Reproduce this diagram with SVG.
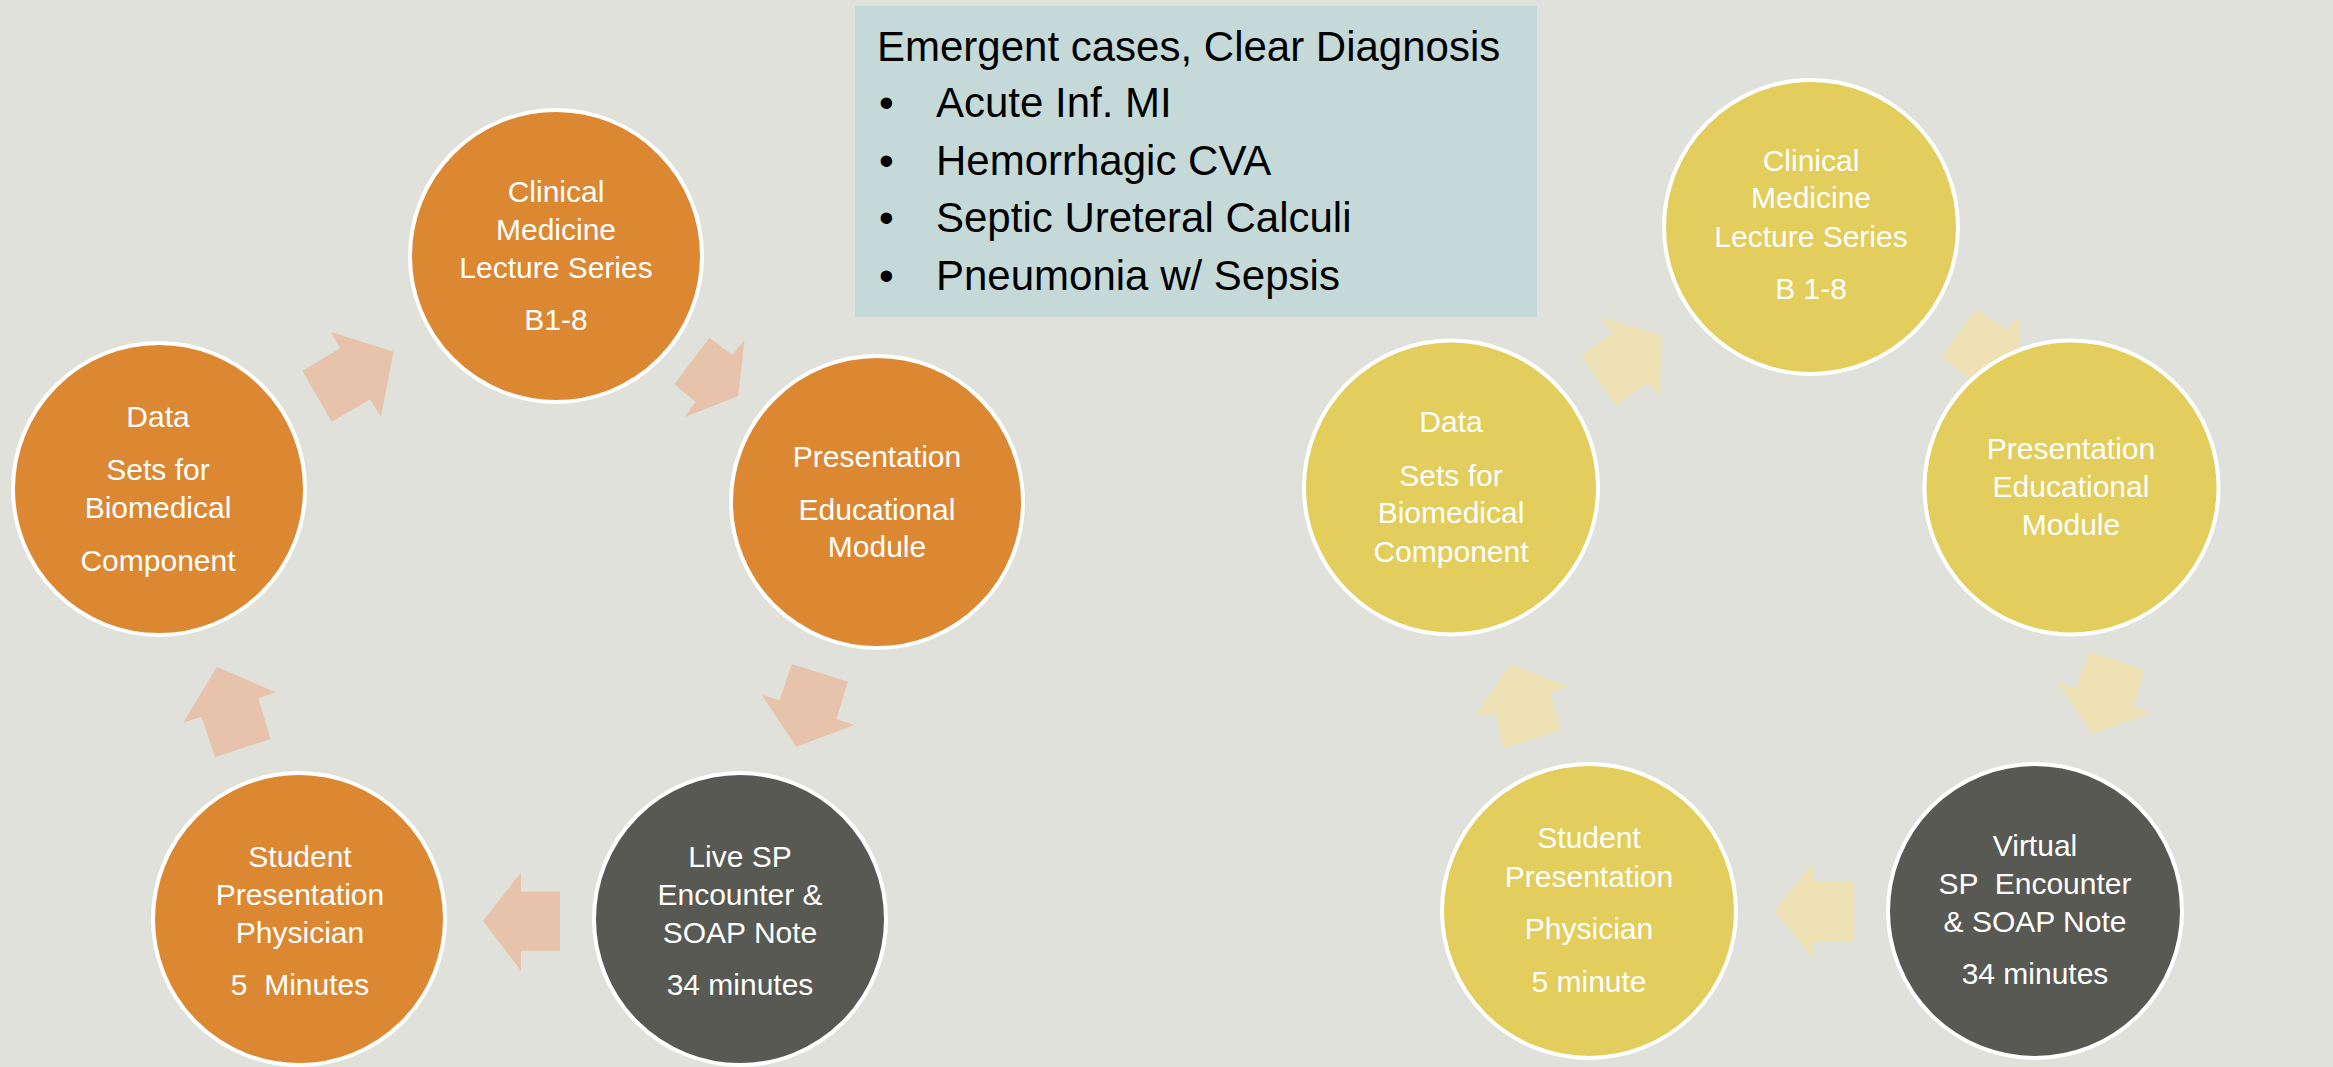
<svg xmlns="http://www.w3.org/2000/svg" width="2333" height="1067" viewBox="0 0 2333 1067">
<style>
.bg{fill:#E0E1DB}
.or{fill:#DC8832;stroke:#FFFFFF;stroke-width:4}
.ye{fill:#E3CD5C;stroke:#FFFFFF;stroke-width:4}
.dk{fill:#585953;stroke:#FFFFFF;stroke-width:4}
.pa{fill:#E8C3AB}
.ya{fill:#EEE2B4}
.nt{font-family:"Liberation Sans",Arial,sans-serif;font-size:30px;fill:#FFFFFF;text-anchor:middle}
.bt{font-family:"Liberation Sans",Arial,sans-serif;font-size:42px;fill:#000000}
</style>
<rect class="bg" x="0" y="0" width="2333" height="1067"/>

<g id="casebox">
<rect x="855" y="6" width="682" height="311" fill="#C5DAD8"/>
<text class="bt" x="877" y="61">Emergent cases, Clear Diagnosis</text>
<text class="bt" x="879" y="117">•</text><text class="bt" x="936" y="117">Acute Inf. MI</text>
<text class="bt" x="879" y="175">•</text><text class="bt" x="936" y="175">Hemorrhagic CVA</text>
<text class="bt" x="879" y="232">•</text><text class="bt" x="936" y="232">Septic Ureteral Calculi</text>
<text class="bt" x="879" y="290">•</text><text class="bt" x="936" y="290">Pneumonia w/ Sepsis</text>
</g>

<g id="connectors">
<polygon class="pa" points="330.5,331.7 393.6,351.7 380.9,416.7 370,399.3 331.8,421.7 302.4,370.7 340,348.3"/>
<polygon class="pa" points="709.5,337.7 732.4,355 744.5,340 738.2,396 684.6,417.3 695.4,401.7 674.4,384.3"/>
<polygon class="pa" points="791.8,664 847.9,681.7 836.4,719 854.3,725 796.2,746.7 761.8,695 779.6,700.3"/>
<polygon class="pa" points="521,872.3 521,891.7 560,891.7 560,950.7 521,950.7 521,970.7 483,921"/>
<polygon class="pa" points="216.9,666.7 275.6,692.3 258.4,698.3 270.5,739 215,757.3 201.6,716.7 183.1,722.7"/>

<polygon class="ya" points="1601,317.7 1661.5,335 1659.5,396.7 1648,382.7 1615.8,405 1580.9,356 1612.4,333.3"/>
<polygon class="ya" points="1976.4,309 2006.7,330 2018.8,316.7 2022.1,378.3 1963,395.7 1971.7,380 1941.5,356.7"/>
<polygon class="ya" points="2089.3,651.7 2144.3,670 2132.9,706.7 2151,712.7 2092.6,734 2057.7,682.7 2075.8,688.3"/>
<polygon class="ya" points="1813.9,861.7 1813.9,881.7 1854.2,881.7 1854.2,941 1813.9,941 1813.9,960 1775,910.7"/>
<polygon class="ya" points="1510.4,664 1568.8,686.7 1550,692.7 1560.7,730 1503.6,748.3 1494.9,711.7 1474.8,716"/>
</g>

<g id="L-clinical">
<circle class="or" cx="556" cy="256" r="146"/>
<text class="nt" x="556" y="202">Clinical</text>
<text class="nt" x="556" y="240">Medicine</text>
<text class="nt" x="556" y="278">Lecture Series</text>
<text class="nt" x="556" y="330">B1-8</text>
</g>
<g id="L-presentation">
<circle class="or" cx="877" cy="502" r="146"/>
<text class="nt" x="877" y="467">Presentation</text>
<text class="nt" x="877" y="520">Educational</text>
<text class="nt" x="877" y="557">Module</text>
</g>
<g id="L-live">
<circle class="dk" cx="740" cy="919" r="146"/>
<text class="nt" x="740" y="867">Live SP</text>
<text class="nt" x="740" y="905">Encounter &amp;</text>
<text class="nt" x="740" y="943">SOAP Note</text>
<text class="nt" x="740" y="995">34 minutes</text>
</g>
<g id="L-student">
<circle class="or" cx="299" cy="919" r="146"/>
<text class="nt" x="300" y="867">Student</text>
<text class="nt" x="300" y="905">Presentation</text>
<text class="nt" x="300" y="943">Physician</text>
<text class="nt" x="300" y="995" xml:space="preserve">5  Minutes</text>
</g>
<g id="L-data">
<circle class="or" cx="159" cy="489" r="146"/>
<text class="nt" x="158" y="427">Data</text>
<text class="nt" x="158" y="480">Sets for</text>
<text class="nt" x="158" y="518">Biomedical</text>
<text class="nt" x="158" y="571">Component</text>
</g>

<g id="R-clinical">
<circle class="ye" cx="1811" cy="227" r="147"/>
<text class="nt" x="1811" y="171">Clinical</text>
<text class="nt" x="1811" y="208">Medicine</text>
<text class="nt" x="1811" y="247">Lecture Series</text>
<text class="nt" x="1811" y="299">B 1-8</text>
</g>
<g id="R-presentation">
<circle class="ye" cx="2071.5" cy="487.5" r="147"/>
<text class="nt" x="2071" y="459">Presentation</text>
<text class="nt" x="2071" y="497">Educational</text>
<text class="nt" x="2071" y="535">Module</text>
</g>
<g id="R-virtual">
<circle class="dk" cx="2035" cy="911" r="147"/>
<text class="nt" x="2035" y="856">Virtual</text>
<text class="nt" x="2035" y="894" xml:space="preserve">SP  Encounter</text>
<text class="nt" x="2035" y="932">&amp; SOAP Note</text>
<text class="nt" x="2035" y="984">34 minutes</text>
</g>
<g id="R-student">
<circle class="ye" cx="1589" cy="911" r="147"/>
<text class="nt" x="1589" y="848">Student</text>
<text class="nt" x="1589" y="887">Presentation</text>
<text class="nt" x="1589" y="939">Physician</text>
<text class="nt" x="1589" y="992">5 minute</text>
</g>
<g id="R-data">
<circle class="ye" cx="1451" cy="487.5" r="147"/>
<text class="nt" x="1451" y="432">Data</text>
<text class="nt" x="1451" y="486">Sets for</text>
<text class="nt" x="1451" y="523">Biomedical</text>
<text class="nt" x="1451" y="562">Component</text>
</g>
</svg>
